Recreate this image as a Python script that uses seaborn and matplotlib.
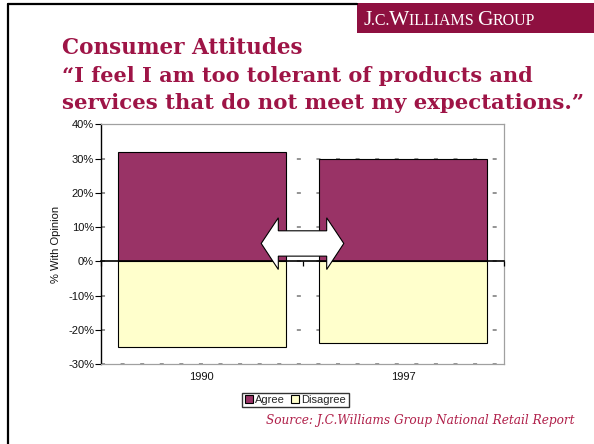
import matplotlib
matplotlib.use("Agg")
import matplotlib.pyplot as plt
import seaborn as sns
import pandas as pd
from matplotlib.patches import Patch, Polygon, Rectangle
from matplotlib.lines import Line2D

# ---- data ----
years = ["1990", "1997"]
agree = [32, 30]
disagree = [-25, -24]
series_names = ["Agree", "Disagree"]
yticks = [-30, -20, -10, 0, 10, 20, 30, 40]

title_lines = ["Consumer Attitudes",
               "\u201cI feel I am too tolerant of products and",
               "services that do not meet my expectations.\u201d"]
source = "Source: J.C.Williams Group National Retail Report"

AGREE_C = "#993366"
DIS_C = "#FFFFCC"
RED = "#9E1446"
LOGO_C = "#8E1040"

sns.set_theme(style="white")
plt.rcParams["font.family"] = ["Liberation Sans", "DejaVu Sans"]
plt.rcParams["lines.scale_dashes"] = False

W, H = 594, 444
fig = plt.figure(figsize=(W / 100, H / 100), dpi=100)
fig.patch.set_facecolor("white")

def fx(px):
    return px / W

def fy(py):
    return 1 - py / H

ax = fig.add_axes([fx(101), fy(364), fx(504) - fx(101), fy(124.3) - fy(364)])

df = pd.DataFrame({"year": years, "Agree": agree, "Disagree": disagree})
sns.barplot(data=df, x="year", y="Agree", color=AGREE_C, saturation=1,
            width=0.834, edgecolor="black", linewidth=0.8, ax=ax, zorder=3)
sns.barplot(data=df, x="year", y="Disagree", color=DIS_C, saturation=1,
            width=0.834, edgecolor="black", linewidth=0.8, ax=ax, zorder=3)

FS = 8
ax.set_ylim(-30, 40)
ax.set_xlim(-0.5, 1.5)
ax.set_yticks(yticks)
ax.set_yticklabels([f"{v}%" for v in yticks], fontsize=FS, color="#111111")
ax.set_ylabel("% With Opinion", fontsize=FS, color="#111111", labelpad=5)
ax.set_xlabel("")
ax.tick_params(axis="y", direction="out", length=4, width=0.8, color="black", pad=1, left=True)
ax.tick_params(axis="x", length=0, pad=6, labelsize=FS, labelcolor="#111111")

# grid
ax.yaxis.grid(True, color="#777777", linewidth=1.1, linestyle=(0, (2.9, 11.2)), zorder=1)
ax.set_axisbelow(True)
for s in ["top", "right", "bottom"]:
    ax.spines[s].set_color("#A0A0A0")
    ax.spines[s].set_linewidth(0.9)
ax.spines["left"].set_color("black")
ax.spines["left"].set_linewidth(1.0)

# zero axis line with category-boundary ticks
y0, y1 = ax.get_ylim()
sec = ax.secondary_xaxis((0 - y0) / (y1 - y0))
sec.set_xticks([-0.5, 0.5, 1.5])
sec.set_xticklabels([])
sec.tick_params(direction="out", length=3.5, width=0.9, color="black")
sec.spines["bottom"].set_color("black")
sec.spines["bottom"].set_linewidth(1.2)
sec.set_zorder(4)

# double-headed arrow (decoration)
cx = 0.5
tip, base = 0.205, 0.12
sh_top, sh_bot = 8.9, 1.5
hd_top, hd_bot = 12.7, -2.4
ymid = 5.2
arrow = Polygon([
    (cx - tip, ymid), (cx - base, hd_top), (cx - base, sh_top), (cx + base, sh_top),
    (cx + base, hd_top), (cx + tip, ymid), (cx + base, hd_bot), (cx + base, sh_bot),
    (cx - base, sh_bot), (cx - base, hd_bot)], closed=True,
    facecolor="white", edgecolor="black", linewidth=0.8, zorder=6, clip_on=False)
ax.add_patch(arrow)

# legend
handles = [Patch(facecolor=AGREE_C, edgecolor="black", linewidth=0.8),
           Patch(facecolor=DIS_C, edgecolor="black", linewidth=0.8)]
leg = fig.legend(handles, series_names, loc="center", bbox_to_anchor=(fx(295.5), fy(400)),
                 ncol=2, fontsize=FS, frameon=True, fancybox=False, handlelength=0.7,
                 handleheight=0.7, handletextpad=0.25, columnspacing=0.5,
                 borderpad=0.22, borderaxespad=0)
leg.get_frame().set_edgecolor("black")
leg.get_frame().set_linewidth(1.0)

# frame lines
fig.add_artist(Line2D([fx(8), fx(8)], [fy(4), fy(444)], color="black", linewidth=1.6))
fig.add_artist(Line2D([fx(8), fx(357)], [fy(4), fy(4)], color="black", linewidth=1.6))

# logo box
fig.add_artist(Rectangle((fx(357), fy(33)), 1 - fx(357), fy(3) - fy(33),
                         transform=fig.transFigure, facecolor=LOGO_C, edgecolor="none"))

fig.canvas.draw()
renderer = fig.canvas.get_renderer()

pieces = [("J", 15.5), (".C.", 11.5), ("W", 15.5), ("ILLIAMS ", 11.5), ("G", 15.5), ("ROUP", 11.5)]
x_px = 363
for txt, sz in pieces:
    t = fig.text(fx(x_px), fy(25), txt, fontsize=sz, color="white",
                 family="Liberation Serif", va="baseline", ha="left")
    bb = t.get_window_extent(renderer)
    x_px += bb.width - 0.3

# title lines, fitted to measured widths
def fit_text(s, x, y, target_w, **kw):
    t = fig.text(fx(x), fy(y), s, fontsize=14, **kw)
    bb = t.get_window_extent(renderer)
    t.set_fontsize(14 * target_w / bb.width)
    return t

tkw = dict(color=RED, family="DejaVu Serif", fontweight="bold", va="baseline", ha="left")
fit_text(title_lines[0], 62, 54, 241, **tkw)
fit_text(title_lines[1], 62, 82, 470, **tkw)
fit_text(title_lines[2], 62, 109, 521, **tkw)

fit_text(source, 266, 424, 311, color="#B0204A", family="DejaVu Serif",
         style="italic", va="baseline", ha="left")

fig.savefig("out.png", dpi=100, facecolor="white")
